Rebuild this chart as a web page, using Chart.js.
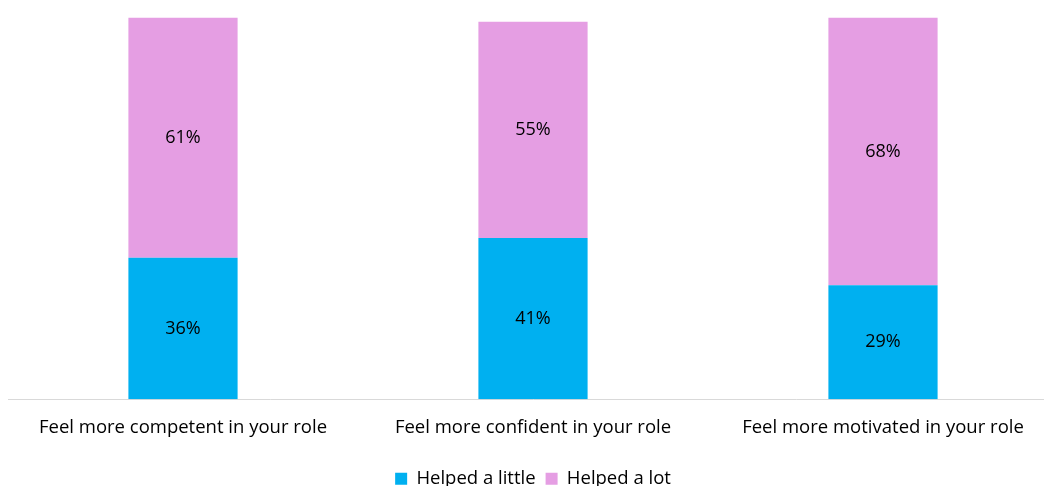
<!DOCTYPE html>
<html>
<head>
<meta charset="utf-8">
<script src="https://cdn.jsdelivr.net/npm/chart.js@4/dist/chart.umd.min.js"></script>
<style>
html,body{margin:0;padding:0;background:#fff;overflow:hidden;}
#wrap{position:relative;width:1058px;height:498px;}
</style>
</head>
<body>
<div id="wrap"><canvas id="c"></canvas></div>
<script>
const categories = ["Feel more competent in your role", "Feel more confident in your role", "Feel more motivated in your role"];
const helpedALittle = [36, 41, 29];
const helpedALot = [61, 55, 68];
const seriesNames = ["Helped a little", "Helped a lot"];

const FONT = "'Open Sans', sans-serif";

const labelPlugin = {
  id: 'segLabels',
  afterDatasetsDraw(chart) {
    const ctx = chart.ctx;
    ctx.save();
    ctx.font = "18px " + FONT;
    ctx.fillStyle = "#000";
    ctx.textAlign = "center";
    ctx.textBaseline = "middle";
    chart.data.datasets.forEach((ds, di) => {
      const meta = chart.getDatasetMeta(di);
      meta.data.forEach((bar, i) => {
        const y = (bar.y + bar.base) / 2;
        ctx.fillText(ds.data[i] + "%", bar.x, y);
      });
    });
    ctx.restore();
  }
};

new Chart(document.getElementById('c'), {
  type: 'bar',
  data: {
    labels: categories,
    datasets: [
      { label: seriesNames[0], data: helpedALittle, backgroundColor: '#00B0F0', barPercentage: 0.312, categoryPercentage: 1 },
      { label: seriesNames[1], data: helpedALot, backgroundColor: '#E59EE3', barPercentage: 0.312, categoryPercentage: 1 }
    ]
  },
  options: {
    responsive: true,
    maintainAspectRatio: false,
    animation: false,
    layout: { padding: { left: 8, right: 0, top: 6, bottom: 0 } },
    plugins: {
      legend: {
        position: 'bottom',
        labels: { boxWidth: 12, boxHeight: 12, color: '#000', font: { family: FONT, size: 18.5 }, padding: 10 }
      },
      tooltip: { enabled: false }
    },
    scales: {
      x: {
        stacked: true,
        grid: { display: false, drawTicks: false },
        border: { color: '#D9D9D9', width: 1 },
        ticks: { color: '#000', font: { family: FONT, size: 18.5 }, padding: 17 },
        afterFit(scale) { scale.height += 4; }
      },
      y: {
        stacked: true,
        display: false,
        min: 0,
        max: 100
      }
    }
  },
  plugins: [labelPlugin]
});
</script>
</body>
</html>
